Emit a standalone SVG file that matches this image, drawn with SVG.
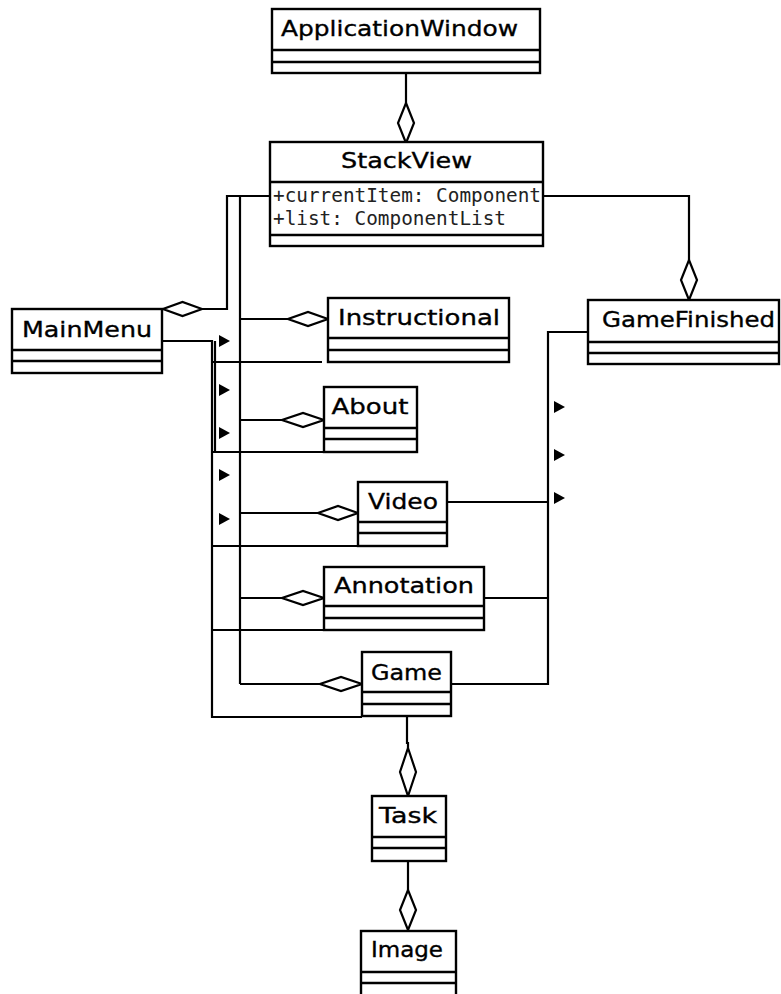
<svg xmlns="http://www.w3.org/2000/svg" width="781" height="994" viewBox="0 0 781 994">
<style>
.box{fill:#fff;stroke:#000;stroke-width:2.4}
.sep{stroke:#000;stroke-width:2.4;fill:none}
.name{font-family:"DejaVu Sans","Liberation Sans",sans-serif;font-size:22px;fill:#000;stroke:#000;stroke-width:0.35;text-anchor:middle}
.attr{font-family:"DejaVu Sans Mono","Liberation Mono",monospace;font-size:19px;fill:#222}
.ln{fill:none;stroke:#000;stroke-width:2.2}
.dia{fill:#fff;stroke:#000;stroke-width:2.2}
.tri{fill:#000}
</style>
<rect width="781" height="994" fill="#fff"/>
<g id="connectors">
<path class="ln" d="M406,73 V103"/>
<path class="dia" d="M406,103 L414,123 L406,143 L398,123 Z"/>
<path class="ln" d="M543,196 H689 V260"/>
<path class="dia" d="M689,260 L697,280 L689,300 L681,280 Z"/>
<path class="ln" d="M270,196 H227 V309 H202"/>
<path class="dia" d="M202,309 L182.5,302 L163,309 L182.5,316 Z"/>
<path class="ln" d="M240,196 V684" stroke-width="2.8"/>
<path class="ln" d="M240,319 H288"/>
<path class="dia" d="M328,319 L308,312 L288,319 L308,326 Z"/>
<path class="ln" d="M240,420 H282"/>
<path class="dia" d="M324,420 L303,413 L282,420 L303,427 Z"/>
<path class="ln" d="M240,513 H318"/>
<path class="dia" d="M358,513 L338,506 L318,513 L338,520 Z"/>
<path class="ln" d="M240,598 H282"/>
<path class="dia" d="M324,598 L303,591 L282,598 L303,605 Z"/>
<path class="ln" d="M240,684 H320"/>
<path class="dia" d="M362,684 L341,677 L320,684 L341,691 Z"/>
<path class="ln" d="M162,341 H212 V717 H362"/>
<path class="ln" d="M215,341 V452"/>
<path class="ln" d="M212,362 H322"/>
<path class="ln" d="M212,452 H324"/>
<path class="ln" d="M212,546 H358"/>
<path class="ln" d="M212,630 H324"/>
<path class="tri" d="M219,335 L230,341 L219,347 Z"/>
<path class="tri" d="M219,384 L230,390 L219,396 Z"/>
<path class="tri" d="M219,427 L230,433 L219,439 Z"/>
<path class="tri" d="M219,469 L230,475 L219,481 Z"/>
<path class="tri" d="M219,513 L230,519 L219,525 Z"/>
<path class="ln" d="M588,332 H548 V684 H451"/>
<path class="ln" d="M447,502 H548"/>
<path class="ln" d="M484,598 H548"/>
<path class="tri" d="M554,401 L565,407 L554,413 Z"/>
<path class="tri" d="M554,449 L565,455 L554,461 Z"/>
<path class="tri" d="M554,492 L565,498 L554,504 Z"/>
<path class="ln" d="M407,716 V743 H408 V748"/>
<path class="dia" d="M408,748 L416,772 L408,796 L400,772 Z"/>
<path class="ln" d="M408,861 V890"/>
<path class="dia" d="M408,890 L416,910 L408,930 L400,910 Z"/>
</g>
<g id="ApplicationWindow">
<rect class="box" x="272" y="9" width="268" height="64"/>
<path class="sep" d="M272,50 H540 M272,62 H540"/>
<text class="name" x="399.5" y="36" textLength="237" lengthAdjust="spacingAndGlyphs">ApplicationWindow</text>
</g>
<g id="StackView">
<rect class="box" x="270" y="142" width="273" height="104"/>
<path class="sep" d="M270,182 H543 M270,235 H543"/>
<text class="name" x="406.5" y="168" textLength="131" lengthAdjust="spacingAndGlyphs">StackView</text>
<text class="attr" x="273" y="202" textLength="268" lengthAdjust="spacingAndGlyphs">+currentItem: Component</text>
<text class="attr" x="273" y="225" textLength="233" lengthAdjust="spacingAndGlyphs">+list: ComponentList</text>
</g>
<g id="MainMenu">
<rect class="box" x="12" y="309" width="150" height="64"/>
<path class="sep" d="M12,350 H162 M12,361 H162"/>
<text class="name" x="87" y="337" textLength="130" lengthAdjust="spacingAndGlyphs">MainMenu</text>
</g>
<g id="Instructional">
<rect class="box" x="328" y="298" width="181" height="64"/>
<path class="sep" d="M328,338 H509 M328,350 H509"/>
<text class="name" x="419" y="325" textLength="162" lengthAdjust="spacingAndGlyphs">Instructional</text>
</g>
<g id="About">
<rect class="box" x="324" y="387" width="93" height="65"/>
<path class="sep" d="M324,428 H417 M324,439 H417"/>
<text class="name" x="370" y="414" textLength="77" lengthAdjust="spacingAndGlyphs">About</text>
</g>
<g id="Video">
<rect class="box" x="358" y="482" width="89" height="64"/>
<path class="sep" d="M358,522 H447 M358,533 H447"/>
<text class="name" x="403" y="509" textLength="70" lengthAdjust="spacingAndGlyphs">Video</text>
</g>
<g id="Annotation">
<rect class="box" x="324" y="567" width="160" height="63"/>
<path class="sep" d="M324,606 H484 M324,618 H484"/>
<text class="name" x="404" y="593" textLength="140" lengthAdjust="spacingAndGlyphs">Annotation</text>
</g>
<g id="Game">
<rect class="box" x="362" y="652" width="89" height="64"/>
<path class="sep" d="M362,692 H451 M362,704 H451"/>
<text class="name" x="406.5" y="680" textLength="71" lengthAdjust="spacingAndGlyphs">Game</text>
</g>
<g id="GameFinished">
<rect class="box" x="588" y="300" width="191" height="64"/>
<path class="sep" d="M588,342 H779 M588,353 H779"/>
<text class="name" x="688.5" y="327" textLength="173" lengthAdjust="spacingAndGlyphs">GameFinished</text>
</g>
<g id="Task">
<rect class="box" x="372" y="796" width="74" height="65"/>
<path class="sep" d="M372,837 H446 M372,848 H446"/>
<text class="name" x="408" y="823" textLength="58" lengthAdjust="spacingAndGlyphs">Task</text>
</g>
<g id="Image">
<rect class="box" x="361" y="931" width="95" height="66"/>
<path class="sep" d="M361,972 H456 M361,983 H456"/>
<text class="name" x="407" y="957" textLength="72" lengthAdjust="spacingAndGlyphs">Image</text>
</g>
</svg>
